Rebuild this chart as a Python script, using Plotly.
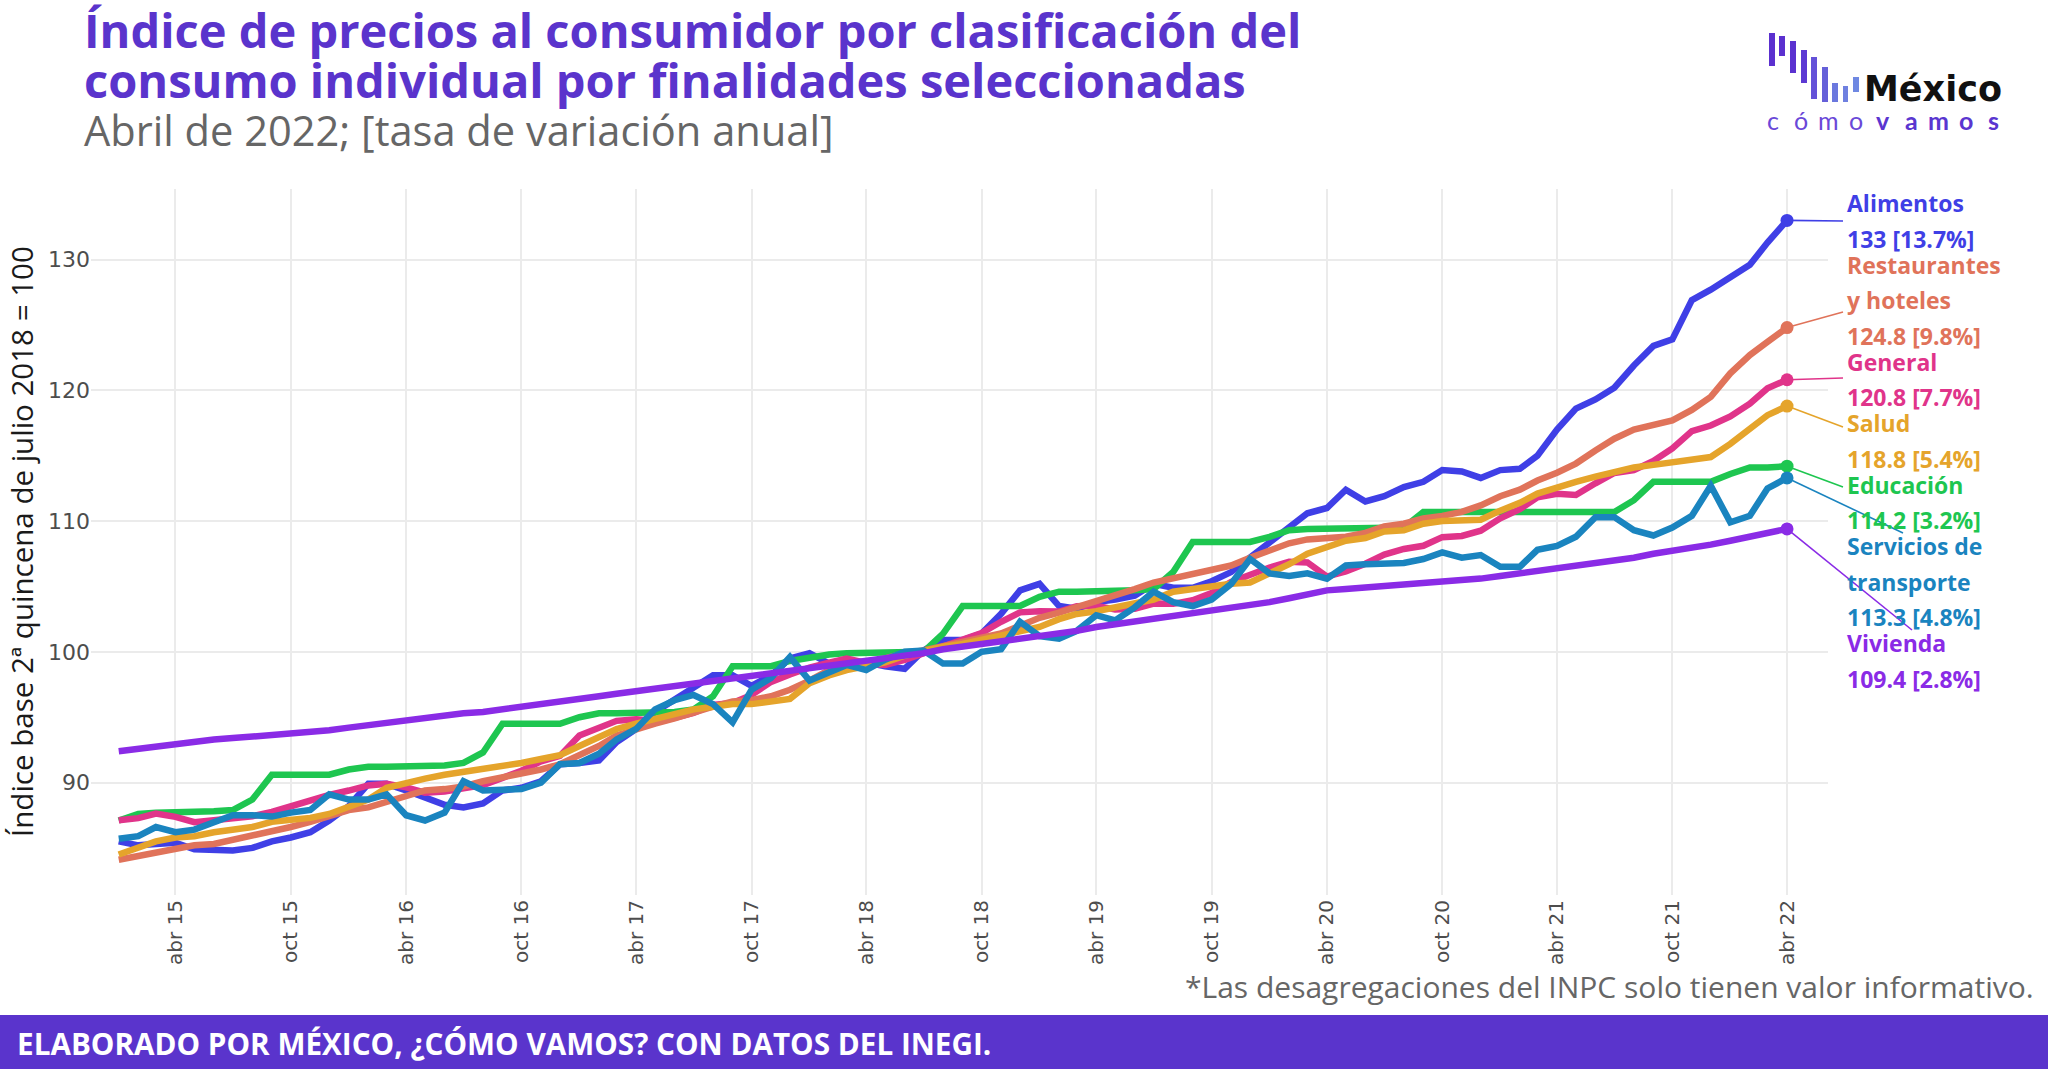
import plotly.graph_objects as go
import pandas as pd

# ---------------- DATA ----------------
months = pd.date_range("2015-01-01", periods=88, freq="MS")

alimentos = [85.5, 85.2, 85.3, 85.4, 84.9, 84.8, 84.8, 85.0, 85.5, 85.8, 86.2, 87.1,
             88.2, 89.9, 89.9, 89.4, 88.9, 88.3, 88.1, 88.4, 89.4, 89.6, 90.1, 91.4,
             91.5, 91.7, 93.1, 94.1, 95.4, 96.3, 97.2, 98.2, 98.2, 97.4, 98.2, 99.5,
             99.9, 99.1, 99.1, 99.2, 98.9, 98.7, 100.1, 100.9, 100.9, 101.4, 102.9, 104.7,
             105.2, 103.5, 103.3, 103.8, 104.0, 104.3, 105.2, 104.9, 104.9, 105.4, 106.1, 107.2,
             108.3, 109.5, 110.6, 111.0, 112.4, 111.5, 111.9, 112.6, 113.0, 113.9, 113.8, 113.3,
             113.9, 114.0, 115.0, 117.0, 118.6, 119.3, 120.2, 121.9, 123.4, 123.9, 126.9, 127.7,
             128.6, 129.6, 131.3, 133.0]

educacion = [87.1, 87.6, 87.7, 87.7, 87.7, 87.8, 87.9, 88.7, 90.6, 90.6, 90.6, 90.6,
             91.0, 91.2, 91.2, 91.2, 91.2, 91.3, 91.5, 92.3, 94.5, 94.5, 94.5, 94.5,
             95.0, 95.3, 95.3, 95.3, 95.3, 95.4, 95.6, 96.6, 98.9, 98.9, 98.9, 99.3,
             99.6, 99.8, 99.9, 99.9, 99.9, 99.9, 100.0, 101.4, 103.5, 103.5, 103.5, 103.5,
             104.2, 104.6, 104.6, 104.6, 104.7, 104.7, 104.8, 106.1, 108.4, 108.4, 108.4, 108.4,
             108.8, 109.3, 109.4, 109.4, 109.4, 109.4, 109.4, 109.5, 110.7, 110.7, 110.6, 110.6,
             110.6, 110.6, 110.6, 110.6, 110.6, 110.6, 110.7, 111.6, 113.0, 113.0, 113.0, 113.0,
             113.6, 114.1, 114.1, 114.2]

general = [87.11, 87.28, 87.63, 87.38, 86.97, 87.11, 87.24, 87.42, 87.75, 88.20, 88.68, 89.05,
           89.39, 89.78, 89.91, 89.63, 89.23, 89.32, 89.56, 89.81, 90.36, 90.91, 91.62, 92.04,
           93.60, 94.14, 94.72, 94.84, 94.73, 94.96, 95.32, 95.94, 96.09, 96.70, 97.70, 98.27,
           98.80, 99.17, 99.49, 99.15, 98.99, 99.38, 99.91, 100.49, 100.92, 101.44, 102.30, 103.02,
           103.11, 103.08, 103.48, 103.53, 103.23, 103.30, 103.69, 103.67, 103.94, 104.50, 105.35, 105.93,
           106.45, 106.89, 106.84, 105.76, 106.16, 106.74, 107.44, 107.87, 108.11, 108.77, 108.86, 109.27,
           110.21, 110.91, 111.82, 112.09, 112.00, 112.89, 113.68, 113.90, 114.60, 115.56, 116.88, 117.31,
           118.00, 118.98, 120.16, 120.81]

restaurantes = [84.1, 84.4, 84.7, 85.0, 85.2, 85.3, 85.6, 85.9, 86.2, 86.6, 87.0, 87.4,
                87.9, 88.1, 88.5, 88.9, 89.4, 89.5, 89.7, 90.1, 90.4, 90.6, 91.0, 91.4,
                92.1, 92.8, 93.6, 94.1, 94.5, 94.9, 95.4, 95.8, 96.2, 96.3, 96.6, 97.1,
                97.8, 98.6, 99.0, 99.1, 99.5, 99.9, 100.1, 100.4, 100.8, 101.0, 101.4, 102.0,
                102.6, 103.0, 103.4, 103.9, 104.4, 104.8, 105.3, 105.6, 106.0, 106.2, 106.6, 107.2,
                107.7, 108.3, 108.6, 108.7, 108.8, 109.1, 109.6, 109.8, 110.2, 110.4, 110.7, 111.2,
                111.9, 112.4, 113.1, 113.7, 114.4, 115.4, 116.3, 117.0, 117.3, 117.7, 118.5, 119.5,
                121.3, 122.7, 123.7, 124.8]

salud = [84.5, 85.0, 85.5, 85.8, 85.9, 86.2, 86.4, 86.6, 87.0, 87.1, 87.3, 87.6,
         88.1, 88.7, 89.6, 90.0, 90.3, 90.6, 90.8, 91.0, 91.3, 91.5, 91.8, 92.1,
         92.8, 93.5, 94.1, 94.5, 94.9, 95.3, 95.6, 95.8, 96.0, 96.0, 96.2, 96.4,
         97.6, 98.2, 98.6, 98.9, 99.2, 99.7, 100.1, 100.4, 100.6, 100.9, 101.3, 101.5,
         101.9, 102.5, 102.9, 103.1, 103.4, 103.7, 104.0, 104.6, 104.8, 105.1, 105.2, 105.3,
         106.0, 106.7, 107.5, 108.0, 108.5, 108.7, 109.2, 109.3, 109.8, 110.0, 110.0, 110.1,
         110.8, 111.4, 112.1, 112.6, 113.0, 113.4, 113.8, 114.1, 114.3, 114.5, 114.7, 114.9,
         115.9, 117.0, 118.1, 118.8]

transporte = [85.7, 85.9, 86.6, 86.2, 86.4, 86.9, 87.5, 87.5, 87.4, 87.7, 87.9, 89.1,
              88.7, 88.7, 89.1, 87.5, 87.1, 87.7, 90.1, 89.4, 89.4, 89.5, 90.0, 91.4,
              91.5, 92.2, 93.3, 94.1, 95.6, 96.3, 96.7, 96.0, 94.6, 97.1, 98.0, 99.6,
              97.8, 98.5, 99.0, 98.6, 99.4, 100.0, 100.1, 99.1, 99.1, 100.0, 100.2, 102.3,
              101.2, 101.0, 101.6, 102.8, 102.4, 103.4, 104.6, 103.8, 103.5, 104.0, 105.2, 107.1,
              106.0, 105.8, 106.0, 105.6, 106.6, 106.7, 106.7, 106.8, 107.1, 107.6, 107.2, 107.4,
              106.5, 106.5, 107.8, 108.1, 108.8, 110.3, 110.3, 109.3, 108.9, 109.5, 110.4, 112.7,
              109.9, 110.4, 112.5, 113.3]

vivienda = [92.4, 92.6, 92.8, 93.0, 93.1, 93.3, 93.4, 93.5, 93.6, 93.8, 93.9, 94.0,
            94.2, 94.4, 94.6, 94.8, 94.9, 95.1, 95.3, 95.4, 95.6, 95.8, 95.9, 96.1,
            96.3, 96.6, 96.8, 97.0, 97.2, 97.4, 97.6, 97.8, 97.9, 98.1, 98.3, 98.5,
            98.7, 98.9, 99.1, 99.3, 99.5, 99.7, 99.9, 100.2, 100.4, 100.6, 100.8, 101.0,
            101.2, 101.4, 101.6, 101.9, 102.1, 102.3, 102.5, 102.7, 102.9, 103.1, 103.3, 103.5,
            103.8, 104.1, 104.4, 104.7, 104.8, 104.9, 105.0, 105.1, 105.2, 105.4, 105.5, 105.6,
            105.8, 106.0, 106.2, 106.4, 106.6, 106.8, 107.0, 107.2, 107.5, 107.7, 107.9, 108.2,
            108.5, 108.8, 109.1, 109.4]

series_names = ["Alimentos", "Educación", "General", "Restaurantes y hoteles",
                "Salud", "Servicios de transporte", "Vivienda"]
label_name_lines = [["Alimentos"], ["Educación"], ["General"], ["Restaurantes", "y hoteles"],
                    ["Salud"], ["Servicios de", "transporte"], ["Vivienda"]]
annual_change = [13.7, 3.2, 7.7, 9.8, 5.4, 4.8, 2.8]
series_values = [alimentos, educacion, general, restaurantes, salud, transporte, vivienda]

tick_dates = ["2015-04-01", "2015-10-01", "2016-04-01", "2016-10-01", "2017-04-01",
              "2017-10-01", "2018-04-01", "2018-10-01", "2019-04-01", "2019-10-01",
              "2020-04-01", "2020-10-01", "2021-04-01", "2021-10-01", "2022-04-01"]
tick_text = ["abr 15", "oct 15", "abr 16", "oct 16", "abr 17", "oct 17", "abr 18",
             "oct 18", "abr 19", "oct 19", "abr 20", "oct 20", "abr 21", "oct 21", "abr 22"]
y_ticks = [90, 100, 110, 120, 130]

# ---------------- STYLE ----------------
colors = ["#3F3FE6", "#1EC650", "#E0348A", "#E0735A", "#E5A42B", "#1A84BF", "#8A2BE6"]
PURPLE = "#5A34CC"
W, H = 2048, 1069
L, R, T, B = 91, 1828, 189, 895
Y_RANGE = [81.4, 135.4]
X_RANGE = ["2014-11-18", "2022-06-05"]
TXT = "Open Sans"


def px2x(px):
    return (px - L) / (R - L)


def px2y(py):
    return (B - py) / (B - T)


def val2y(v):
    return (v - Y_RANGE[0]) / (Y_RANGE[1] - Y_RANGE[0])


fig = go.Figure()
for name, vals, col in zip(series_names, series_values, colors):
    fig.add_trace(go.Scatter(x=months, y=vals, mode="lines", name=name,
                             line=dict(color=col, width=6.5), showlegend=False,
                             hoverinfo="x+y+name"))
for name, vals, col in zip(series_names, series_values, colors):
    fig.add_trace(go.Scatter(x=[months[-1]], y=[vals[-1]], mode="markers",
                             marker=dict(color=col, size=13), showlegend=False,
                             cliponaxis=False, hoverinfo="skip"))

annotations = []
shapes = []

# ---- end labels stacked on the right ----
order = sorted(range(len(series_names)), key=lambda i: -series_values[i][-1])
connector_ends = [(1843, 221), (1843, 312), (1843, 378), (1843, 427),
                  (1843, 487), (1903, 533), (1912, 630)]
line_y = 203.0
PITCH_IN, PITCH_GAP = 35.5, 26.0
apr22_px = L + (R - L) * ((pd.Timestamp("2022-04-01") - pd.Timestamp(X_RANGE[0])) /
                          (pd.Timestamp(X_RANGE[1]) - pd.Timestamp(X_RANGE[0])))
for k, i in enumerate(order):
    col = colors[i]
    last = series_values[i][-1]
    lines = label_name_lines[i] + [f"{round(last, 1):g} [{annual_change[i]}%]"]
    for j, txt in enumerate(lines):
        annotations.append(dict(x=px2x(1845), y=px2y(line_y), xref="paper", yref="paper",
                                text=f"<b>{txt}</b>", showarrow=False, xanchor="left",
                                yanchor="middle", font=dict(family=TXT, size=23, color=col)))
        if j < len(lines) - 1:
            line_y += PITCH_IN
    line_y += PITCH_GAP
    ex, ey = connector_ends[k]
    shapes.append(dict(type="line", xref="paper", yref="paper",
                       x0=px2x(apr22_px), y0=val2y(last), x1=px2x(ex), y1=px2y(ey),
                       line=dict(color=col, width=1.6), layer="below"))

# ---- titles ----
annotations += [
    dict(x=px2x(82), y=px2y(30), xref="paper", yref="paper", xanchor="left", yanchor="middle",
         text="<b>Índice de precios al consumidor por clasificación del</b>", showarrow=False,
         font=dict(family=TXT, size=47, color=PURPLE)),
    dict(x=px2x(82), y=px2y(80), xref="paper", yref="paper", xanchor="left", yanchor="middle",
         text="<b>consumo individual por finalidades seleccionadas</b>", showarrow=False,
         font=dict(family=TXT, size=47, color=PURPLE)),
    dict(x=px2x(82), y=px2y(130), xref="paper", yref="paper", xanchor="left", yanchor="middle",
         text="Abril de 2022; [tasa de variación anual]", showarrow=False,
         font=dict(family=TXT, size=41.6, color="#666666")),
    dict(x=px2x(21), y=px2y(542), xref="paper", yref="paper", xanchor="center", yanchor="middle",
         text="Índice base 2ª quincena de julio 2018 = 100", textangle=-90, showarrow=False,
         font=dict(family=TXT, size=29.5, color="#1A1A1A")),
    dict(x=px2x(2036), y=px2y(986), xref="paper", yref="paper", xanchor="right", yanchor="middle",
         text="*Las desagregaciones del INPC solo tienen valor informativo.", showarrow=False,
         font=dict(family=TXT, size=30, color="#666666")),
    dict(x=px2x(15), y=px2y(1043), xref="paper", yref="paper", xanchor="left", yanchor="middle",
         text="<b>ELABORADO POR MÉXICO, ¿CÓMO VAMOS? CON DATOS DEL INEGI.</b>", showarrow=False,
         font=dict(family=TXT, size=29.7, color="white")),
    dict(x=px2x(1862), y=px2y(89), xref="paper", yref="paper", xanchor="left", yanchor="middle",
         text="<b>México</b>", showarrow=False,
         font=dict(family="DejaVu Sans", size=35, color="#111111")),
]

# logo letters "cómovamos"
logo_letters = ["c", "ó", "m", "o", "v", "a", "m", "o", "s"]
for n, ch in enumerate(logo_letters):
    bold = n >= 4
    annotations.append(dict(x=px2x(1773 + n * 27.6), y=px2y(120), xref="paper", yref="paper",
                            xanchor="center", yanchor="middle", showarrow=False,
                            text=f"<b>{ch}</b>" if bold else ch,
                            font=dict(family="Lato", size=25,
                                      color="#5A36D0" if bold else "#6A48D8")))

# logo bars (pixel boxes)
logo_bars = [(1769, 1775, 33, 66, "#5B30CF"), (1779, 1785, 36, 56, "#5B30CF"),
             (1790, 1796, 41, 73, "#5B32D0"), (1801, 1807, 50, 83, "#5C3AD3"),
             (1811, 1817, 57, 99, "#6452D8"), (1822, 1828, 67, 102, "#6560D9"),
             (1832, 1838, 83, 102, "#6B78DE"), (1843, 1848, 86, 102, "#6F80E0"),
             (1853, 1859, 77, 92, "#6F88E2")]
for x0, x1, y0, y1, c in logo_bars:
    shapes.append(dict(type="rect", xref="paper", yref="paper", x0=px2x(x0), x1=px2x(x1),
                       y0=px2y(y1), y1=px2y(y0), fillcolor=c, line=dict(width=0)))

# footer band
shapes.append(dict(type="rect", xref="paper", yref="paper", x0=px2x(0), x1=px2x(W),
                   y0=px2y(H), y1=px2y(1015), fillcolor=PURPLE, line=dict(width=0),
                   layer="below"))

fig.update_layout(
    width=W, height=H,
    margin=dict(l=L, r=W - R, t=T, b=H - B, pad=0),
    paper_bgcolor="white", plot_bgcolor="white",
    annotations=annotations, shapes=shapes,
    xaxis=dict(range=X_RANGE, tickvals=tick_dates, ticktext=tick_text, tickangle=-90,
               showgrid=True, gridcolor="#EBEBEB", gridwidth=1.6, zeroline=False,
               showline=False, ticks="", tickfont=dict(family="DejaVu Sans", size=20, color="#4D4D4D")),
    yaxis=dict(range=Y_RANGE, tickvals=y_ticks, showgrid=True, gridcolor="#EBEBEB",
               gridwidth=1.6, zeroline=False, showline=False, ticks="",
               tickfont=dict(family="DejaVu Sans", size=22, color="#4D4D4D")),
    hovermode="closest",
)

fig.write_html("out.html", config={"displayModeBar": False},
               post_script="document.body.style.margin='0px';")
